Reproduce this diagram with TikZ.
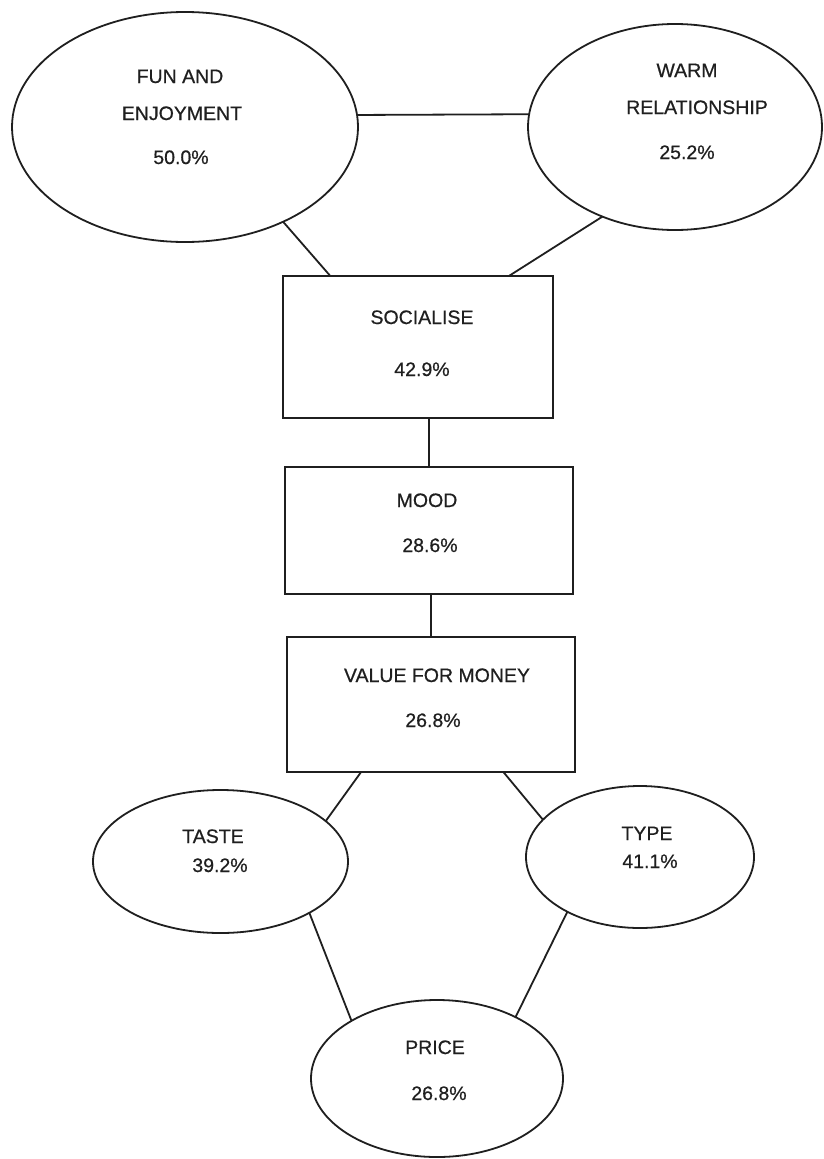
\documentclass[tikz,border=0pt]{standalone}
\usepackage{fontspec}
\setmainfont{Liberation Sans}
\newfontfamily\lblfont{Liberation Sans}[FakeBold=0.6]
\usetikzlibrary{shapes.geometric}
\begin{document}
\begin{tikzpicture}[x=1pt,y=-1pt,
  conn/.style={draw=black!88, line width=1.8pt},
  oval/.style={ellipse, draw=black!88, line width=1.8pt, inner sep=0pt, outer sep=0pt},
  box/.style={rectangle, draw=black!88, line width=1.8pt, inner sep=0pt, outer sep=0pt},
  lbl/.style={anchor=base, inner sep=0pt, font=\lblfont\fontsize{19.5}{23}\selectfont, text=black!88}]
\fill[white] (0,0) rectangle (823,1159);
\useasboundingbox (0,0) rectangle (823,1159);
% shapes
\node[oval, minimum width=346pt, minimum height=230pt] (fun) at (185,127) {};
\node[oval, minimum width=294pt, minimum height=206pt] (warm) at (675,127) {};
\node[box, minimum width=270pt, minimum height=142pt] (soc) at (418,347) {};
\node[box, minimum width=288pt, minimum height=127pt] (mood) at (429,530.5) {};
\node[box, minimum width=288pt, minimum height=135pt] (val) at (431,704.5) {};
\node[oval, minimum width=255pt, minimum height=143pt] (taste) at (220.5,861.5) {};
\node[oval, minimum width=228pt, minimum height=142pt] (type) at (640,857) {};
\node[oval, minimum width=252pt, minimum height=157pt] (price) at (437,1078.5) {};
% connectors
\draw[conn] (fun.4) -- (warm.175);
\draw[conn] (fun.-44) -- (soc.141);
\draw[conn] (warm.231) -- (soc.38);
\draw[conn] (soc.south -| mood.north) -- (mood.north);
\draw[conn] (mood.south -| val.north) -- (val.north);
\draw[conn] (val.224) -- (taste.21);
\draw[conn] (val.-43) -- (type.159);
\draw[conn] (taste.-30) -- (price.146);
\draw[conn] (type.-143) -- (price.38);
% labels
\node[lbl] (funA) at (180,83) {FUN AND};
\node[lbl] (funB) at (182,120) {ENJOYMENT};
\node[lbl] (funC) at (181,164) {50.0\%};
\node[lbl] (warmA) at (687,77) {WARM};
\node[lbl] (warmB) at (697,114) {RELATIONSHIP};
\node[lbl] (warmC) at (687,159) {25.2\%};
\node[lbl] (socA) at (422,324) {SOCIALISE};
\node[lbl] (socB) at (422,376) {42.9\%};
\node[lbl] (moodA) at (427,507) {MOOD};
\node[lbl] (moodB) at (430,552) {28.6\%};
\node[lbl] (valA) at (437,682) {VALUE FOR MONEY};
\node[lbl] (valB) at (433,727) {26.8\%};
\node[lbl] (tasteA) at (213,843) {TASTE};
\node[lbl] (tasteB) at (220,872) {39.2\%};
\node[lbl] (typeA) at (647,840) {TYPE};
\node[lbl] (typeB) at (650,868) {41.1\%};
\node[lbl] (priceA) at (435,1054) {PRICE};
\node[lbl] (priceB) at (439,1100) {26.8\%};
\end{tikzpicture}
\end{document}
